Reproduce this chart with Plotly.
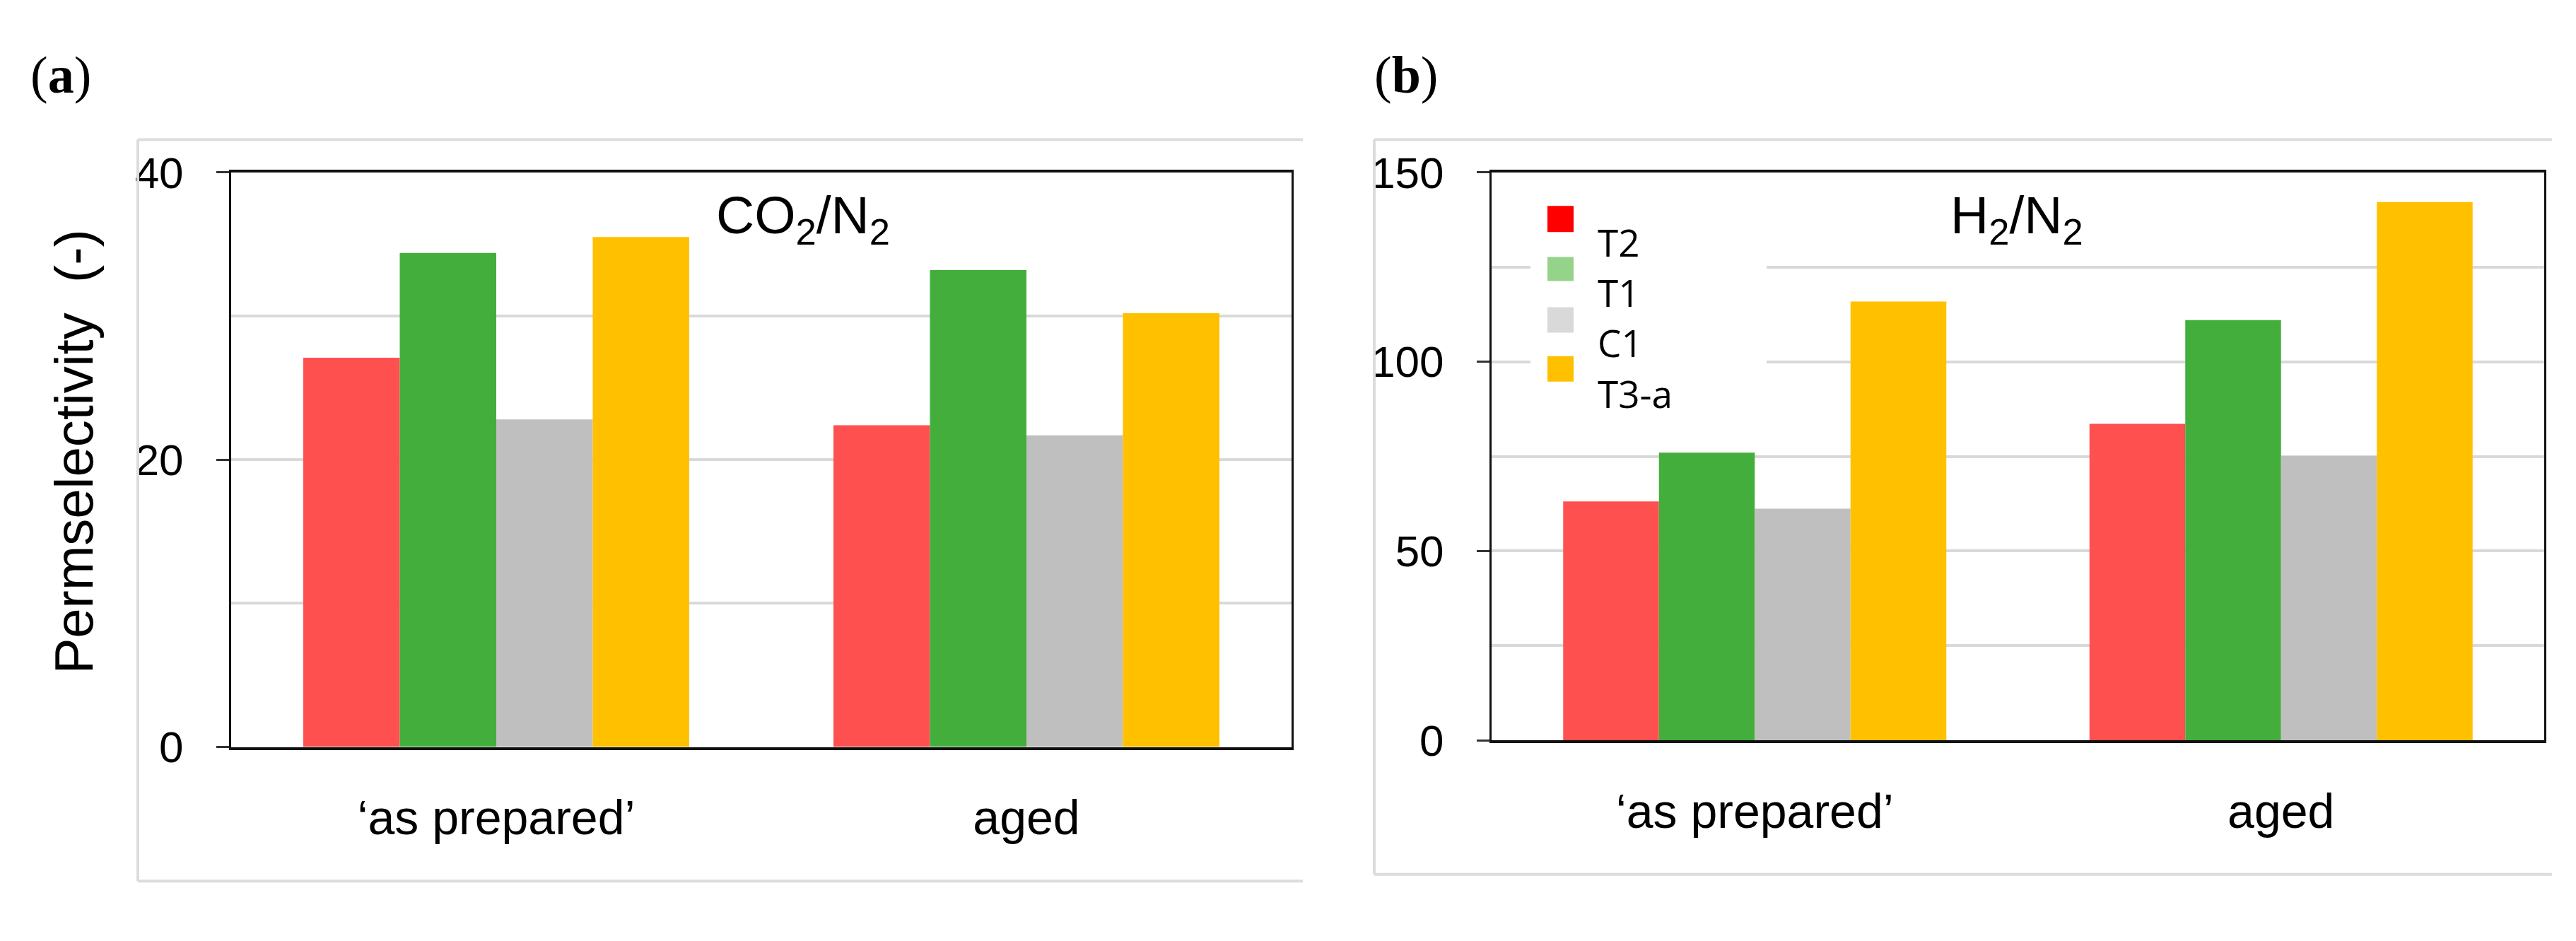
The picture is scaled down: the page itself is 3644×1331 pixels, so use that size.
import plotly.graph_objects as go

# ---------------- data ----------------
categories = ["\u2018as prepared\u2019", "aged"]
series_names = ["T2", "T1", "C1", "T3-a"]
co2_n2_T2 = [27.1, 22.4]
co2_n2_T1 = [34.4, 33.2]
co2_n2_C1 = [22.8, 21.7]
co2_n2_T3a = [35.5, 30.2]
h2_n2_T2 = [63.1, 83.6]
h2_n2_T1 = [76.0, 111.0]
h2_n2_C1 = [61.2, 75.1]
h2_n2_T3a = [115.9, 142.2]

bar_colors = ["#FF5050", "#44AE3C", "#BFBFBF", "#FFC000"]
legend_colors = ["#FF0000", "#95D38B", "#D9D9D9", "#FFC000"]

W, H = 3644, 1331
def px(x):
    return x / W
def py(y):
    return 1 - y / H

fig = go.Figure()
left_vals = [co2_n2_T2, co2_n2_T1, co2_n2_C1, co2_n2_T3a]
right_vals = [h2_n2_T2, h2_n2_T1, h2_n2_C1, h2_n2_T3a]
for name, vals, col in zip(series_names, left_vals, bar_colors):
    fig.add_trace(go.Bar(x=categories, y=vals, name=name, marker=dict(color=col, line=dict(width=0)),
                         xaxis="x", yaxis="y", showlegend=False))
for name, vals, col in zip(series_names, right_vals, bar_colors):
    fig.add_trace(go.Bar(x=categories, y=vals, name=name, marker=dict(color=col, line=dict(width=0)),
                         xaxis="x2", yaxis="y2", showlegend=False))

FONT = "Liberation Sans, Arial, sans-serif"
grid = "#D9D9D9"

def xaxis_cfg(dom, anchor):
    return dict(domain=dom, anchor=anchor, type="category", showline=True, linecolor="#111111",
                linewidth=4, mirror=True, ticks="", showgrid=False, ticklabelstandoff=38,
                tickfont=dict(family=FONT, size=68, color="black"), fixedrange=True)

def yaxis_cfg(dom, anchor, rng, dtick, minor_dtick):
    return dict(domain=dom, anchor=anchor, range=rng, tick0=0, dtick=dtick, showline=True,
                linecolor="#111111", linewidth=3, mirror=True, ticks="outside", ticklen=18,
                tickwidth=3, tickcolor="#333333", showgrid=True, gridcolor=grid, gridwidth=4,
                zeroline=False, ticklabelstandoff=34,
                minor=dict(dtick=minor_dtick, tick0=0, showgrid=True, gridcolor=grid, gridwidth=4, ticks=""),
                tickfont=dict(family=FONT, size=62, color="black"), fixedrange=True)

fig.update_layout(
    width=W, height=H, margin=dict(l=0, r=0, t=0, b=0),
    paper_bgcolor="white", plot_bgcolor="white",
    barmode="group", bargap=0.272, bargroupgap=0,
    showlegend=False,
    xaxis=xaxis_cfg([px(319), px(1819)], "y"),
    yaxis=yaxis_cfg([py(1070), py(213)], "x", [0, 40], 20, 10),
    xaxis2=xaxis_cfg([px(2102), px(3591)], "y2"),
    yaxis2=yaxis_cfg([py(1060), py(213)], "x2", [0, 150], 50, 25),
)

shapes = []
box_col = "#DCDCDC"
# outer panel frames (top, left, bottom)
for (x0, x1, y0, y1) in [(187, 1835, 164, 1270), (1936, 3602, 164, 1260)]:
    shapes.append(dict(type="line", xref="paper", yref="paper", x0=px(x0), x1=px(x1), y0=py(y0), y1=py(y0),
                       line=dict(color=box_col, width=4)))
    shapes.append(dict(type="line", xref="paper", yref="paper", x0=px(x0), x1=px(x1), y0=py(y1), y1=py(y1),
                       line=dict(color=box_col, width=4)))
    shapes.append(dict(type="line", xref="paper", yref="paper", x0=px(x0), x1=px(x0), y0=py(y0), y1=py(y1),
                       line=dict(color=box_col, width=4)))
# legend background covering gridlines
shapes.append(dict(type="rect", xref="paper", yref="paper", x0=px(2157), x1=px(2491), y0=py(245), y1=py(585),
                   fillcolor="white", line=dict(width=0), layer="above"))
# legend swatches
sw_y = [(263, 302), (339, 375), (414, 452), (487, 525)]
for (y0, y1), col in zip(sw_y, legend_colors):
    shapes.append(dict(type="rect", xref="paper", yref="paper", x0=px(2181), x1=px(2218), y0=py(y1), y1=py(y0),
                       fillcolor=col, line=dict(width=0), layer="above"))
fig.update_layout(shapes=shapes)

ann = []
lab_y = [313, 388, 463, 539]
for name, yy in zip(series_names, lab_y):
    ann.append(dict(text=name, xref="paper", yref="paper", x=px(2250), y=py(yy + 4), xanchor="left",
                    yanchor="middle", showarrow=False,
                    font=dict(family="Open Sans, Noto Sans, sans-serif", size=53, color="black")))
ann.append(dict(text="CO<sub>2</sub>/N<sub>2</sub>", xref="paper", yref="paper", x=px(1128), y=py(282),
                xanchor="center", yanchor="middle", showarrow=False, font=dict(family=FONT, size=75, color="black")))
ann.append(dict(text="H<sub>2</sub>/N<sub>2</sub>", xref="paper", yref="paper", x=px(2845), y=py(282),
                xanchor="center", yanchor="middle", showarrow=False, font=dict(family=FONT, size=75, color="black")))
ann.append(dict(text="Permselectivity\u00a0\u00a0(-)", xref="paper", yref="paper", x=px(96), y=py(630),
                xanchor="center", yanchor="middle", textangle=-90, showarrow=False,
                font=dict(family=FONT, size=76, color="black")))
ann.append(dict(text="(<b>a</b>)", xref="paper", yref="paper", x=px(33), y=py(67), xanchor="left",
                yanchor="middle", showarrow=False,
                font=dict(family="Liberation Serif, Times New Roman, serif", size=74, color="black")))
ann.append(dict(text="(<b>b</b>)", xref="paper", yref="paper", x=px(1934), y=py(67), xanchor="left",
                yanchor="middle", showarrow=False,
                font=dict(family="Liberation Serif, Times New Roman, serif", size=74, color="black")))
fig.update_layout(annotations=ann)

fig.write_html("out.html")
